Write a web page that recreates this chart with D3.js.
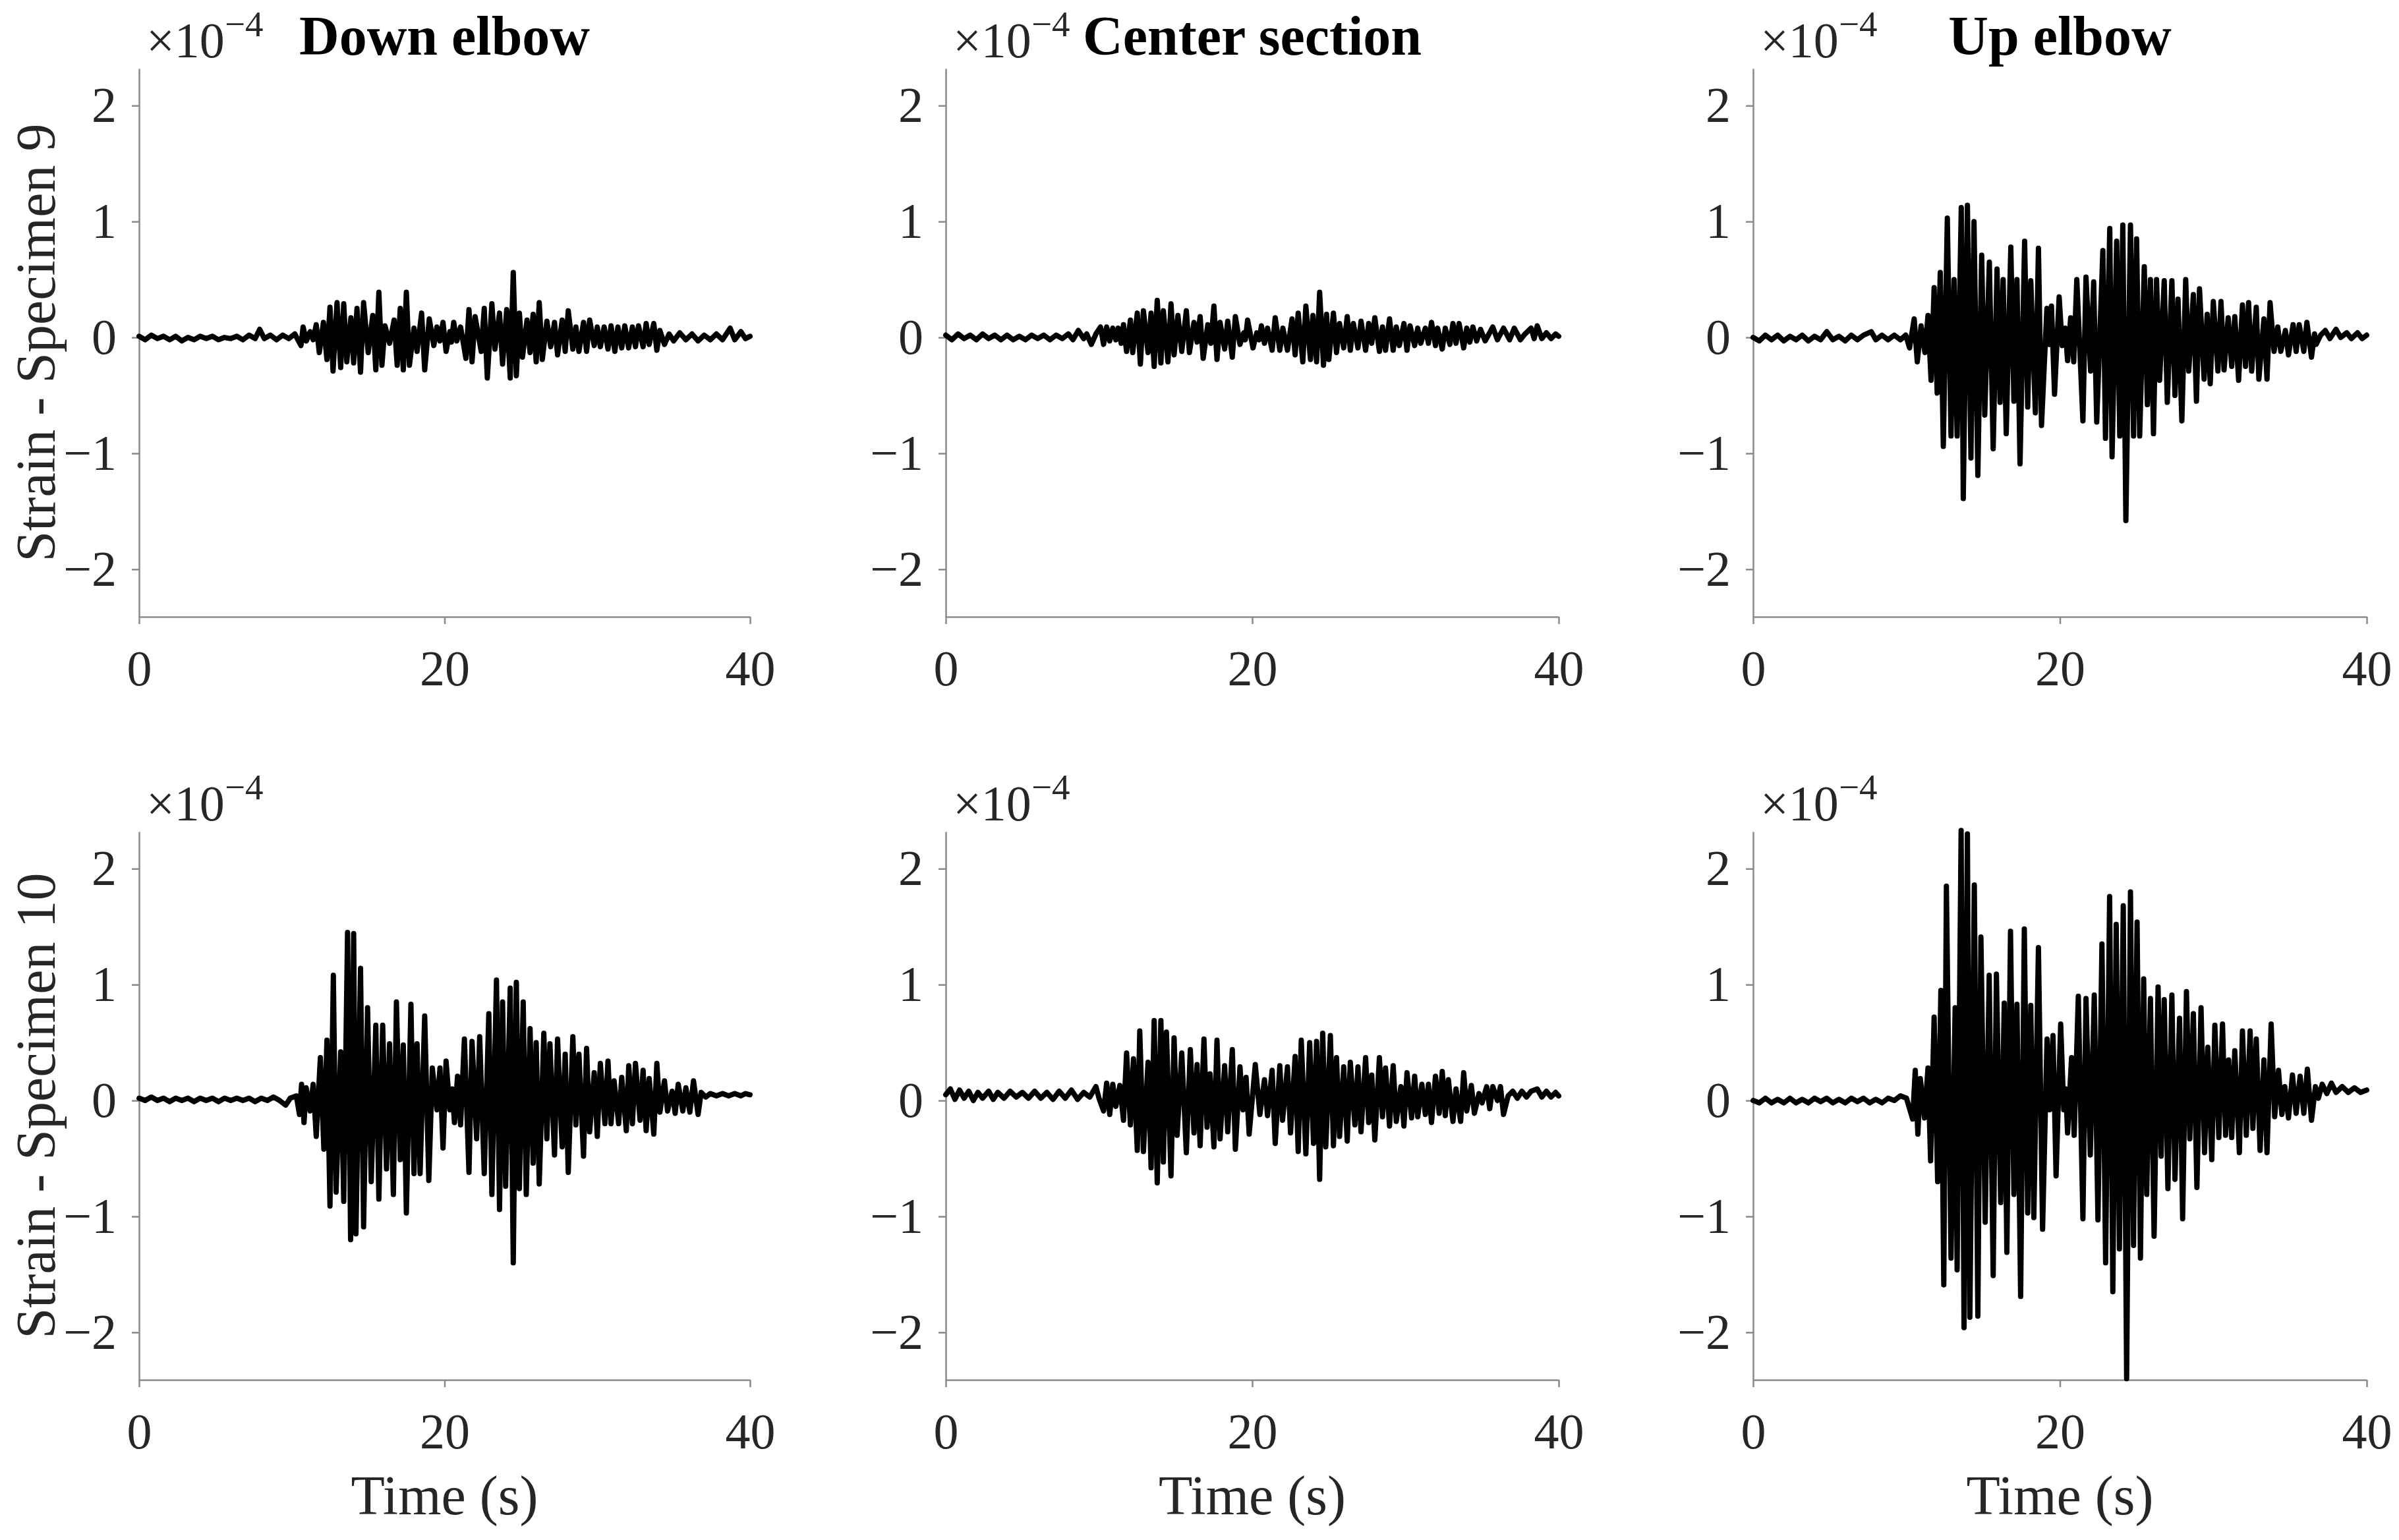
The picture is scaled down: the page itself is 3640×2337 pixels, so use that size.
<!DOCTYPE html>
<html>
<head>
<meta charset="utf-8">
<script src="https://cdn.jsdelivr.net/npm/d3@7"></script>
<style>
  body { margin: 0; background: #fff; }
  svg { display: block; }
</style>
</head>
<body>
<svg id="chart"></svg>
<script>
// strain traces, [time (s), strain x1e-4], read peak by peak off the figure
const down9 = [[0,0.01],[0.4,-0.02],[0.8,0.02],[1.2,-0.01],[1.6,0.01],[2,-0.02],[2.4,0.01],[2.8,-0.03],[3.2,0],[3.6,-0.02],[4,0.01],[4.4,-0.01],[4.8,0.01],[5.2,-0.02],[5.6,0],[6,-0.01],[6.4,0.01],[6.8,-0.02],[7.2,0.02],[7.6,-0.01],[7.9,0.07],[8.2,-0.01],[8.6,0.02],[9,-0.02],[9.4,0.02],[9.8,-0.01],[10.2,0.03],
  [10.6,-0.07],[10.74,0.09],[10.95,-0.03],[11.2,0.05],[11.4,-0.02],[11.6,0.11],[11.8,-0.13],[12.07,0.13],[12.3,-0.19],[12.5,0.26],[12.7,-0.29],[12.96,0.3],[13.2,-0.26],[13.4,0.29],[13.6,-0.21],[13.87,0.17],[14.05,-0.22],[14.27,0.25],[14.5,-0.3],[14.7,0.3],[15,-0.13],[15.3,0.19],[15.5,-0.28],[15.7,0.39],[15.9,-0.24],[16.1,0.1],[16.4,-0.05],[16.7,0.15],[16.9,-0.24],[17.1,0.25],[17.3,-0.28],[17.5,0.39],[17.7,-0.24],[18,0.08],[18.2,-0.12],[18.5,0.21],[18.7,-0.28],[19,0.16],[19.3,-0.07],[19.5,0.09],[19.7,-0.03],[19.9,0.13],[20.1,-0.12],[20.35,0.05],[20.45,-0.04],[20.6,0.13],[20.8,-0.03],[21.05,0.09],[21.4,-0.18],[21.6,0.24],[21.8,-0.21],[22,0.18],[22.4,-0.12],[22.6,0.25],[22.8,-0.35],[23.1,0.29],[23.3,-0.1],[23.6,0.21],[23.8,-0.23],[24.07,0.24],[24.3,-0.35],[24.5,0.56],[24.7,-0.33],[24.9,0.21],[25.1,-0.17],[25.4,0.15],[25.6,-0.13],[25.8,0.2],[26,-0.21],[26.2,0.3],[26.4,-0.19],[26.7,0.14],[26.95,-0.08],[27.2,0.13],[27.4,-0.15],[27.7,0.15],[27.9,-0.12],[28.1,0.23],[28.4,-0.1],[28.6,0.09],[28.8,-0.12],[29.1,0.13],[29.3,-0.12],[29.5,0.15],[29.8,-0.07],[30,0.09],[30.2,-0.08],[30.45,0.09],[30.7,-0.1],[30.9,0.1],[31.15,-0.12],[31.35,0.09],[31.6,-0.09],[31.8,0.1],[32.05,-0.09],[32.3,0.09],[32.5,-0.08],[32.7,0.1],[33,-0.08],[33.2,0.12],[33.4,-0.06],[33.7,0.12],[33.9,-0.11],[34.1,0.06],[34.4,-0.06],
  [34.7,0.03],[35,-0.03],[35.4,0.04],[35.8,-0.02],[36.2,0.03],[36.6,-0.03],[37,0.02],[37.4,-0.02],[37.8,0.03],[38.2,-0.02],[38.7,0.08],[39,-0.02],[39.4,0.05],[39.7,-0.01],[40,0.01]];

const center9 = [[0,0.02],[0.4,-0.02],[0.8,0.03],[1.2,-0.01],[1.6,0.02],[2,-0.02],[2.4,0.03],[2.8,-0.01],[3.2,0.02],[3.6,-0.02],[4,0.02],[4.4,-0.02],[4.8,0.01],[5.2,-0.02],[5.6,0.02],[6,-0.01],[6.4,0.02],[6.8,-0.02],[7.2,0.02],[7.6,-0.01],[8,0.03],[8.3,-0.02],[8.65,0.06],[9,-0.01],[9.2,0.03],[9.5,-0.06],[9.8,0.03],
  [10.1,0.09],[10.3,-0.06],[10.5,0.09],[10.7,-0.03],[10.9,0.08],[11.1,-0.02],[11.25,0.08],[11.45,-0.05],[11.6,0.11],[11.8,-0.12],[12.05,0.15],[12.2,-0.13],[12.5,0.21],[12.7,-0.23],[12.9,0.23],[13.2,-0.13],[13.4,0.21],[13.6,-0.25],[13.8,0.32],[14.04,-0.22],[14.2,0.23],[14.5,-0.21],[14.7,0.29],[14.9,-0.15],[15.15,0.19],[15.4,-0.12],[15.7,0.23],[15.9,-0.13],[16.2,0.13],[16.4,-0.04],[16.6,0.18],[16.8,-0.18],[17.1,0.11],[17.3,-0.05],[17.5,0.27],[17.7,-0.19],[17.9,0.13],[18.2,-0.1],[18.4,0.14],[18.7,-0.17],[18.9,0.18],[19.2,-0.06],[19.45,0.04],[19.55,-0.02],[19.7,0.15],[20.05,-0.09],[20.3,0.04],[20.45,-0.02],[20.6,0.1],[20.8,-0.05],[21,0.08],[21.3,-0.11],[21.5,0.17],[21.8,-0.11],[22,0.08],[22.3,-0.11],[22.6,0.16],[22.8,-0.15],[23,0.21],[23.3,-0.21],[23.5,0.27],[23.8,-0.19],[23.96,0.19],[24.2,-0.21],[24.4,0.39],[24.65,-0.24],[24.85,0.2],[25,-0.19],[25.3,0.21],[25.5,-0.13],[25.7,0.12],[25.97,-0.09],[26.2,0.18],[26.4,-0.11],[26.6,0.12],[26.9,-0.09],[27.1,0.14],[27.4,-0.11],[27.6,0.12],[27.8,-0.05],[28,0.17],[28.3,-0.12],[28.5,0.09],[28.7,-0.11],[28.96,0.16],[29.2,-0.11],[29.4,0.09],[29.6,-0.07],[29.9,0.12],[30.1,-0.11],[30.3,0.1],[30.6,-0.07],[30.8,0.08],[31,-0.05],[31.3,0.08],[31.5,-0.05],[31.7,0.13],[31.96,-0.07],[32.1,0.08],[32.4,-0.1],[32.6,0.08],[32.9,-0.06],[33.1,0.12],[33.3,-0.05],[33.5,0.12],[33.8,-0.09],[34,0.08],[34.2,-0.04],[34.4,0.09],[34.65,-0.03],[34.9,0.07],
  [35.2,-0.03],[35.7,0.09],[36,-0.02],[36.4,0.08],[36.8,-0.02],[37.1,0.08],[37.5,-0.02],[37.8,0.03],[38.2,0.08],[38.4,-0.01],[38.6,0.1],[38.9,-0.01],[39.2,0.04],[39.5,-0.01],[39.8,0.03],[40,0.01]];

const up9 = [[0,0],[0.4,-0.03],[0.8,0.02],[1.2,-0.02],[1.6,0.02],[2,-0.03],[2.4,0.01],[2.8,-0.02],[3.2,0.02],[3.6,-0.03],[4,0.01],[4.4,-0.02],[4.8,0.05],[5.2,-0.02],[5.6,0.01],[6,-0.03],[6.4,0.02],[6.8,-0.02],[7.2,0.02],[7.7,0.05],[8,-0.02],[8.4,0.02],[8.8,-0.02],[9.2,0.02],[9.6,-0.02],[9.95,0.02],
  [10.2,-0.09],[10.5,0.16],[10.7,-0.21],[10.95,0.1],[11.2,-0.13],[11.4,0.19],[11.6,-0.37],[11.8,0.43],[12,-0.48],[12.2,0.56],[12.4,-0.94],[12.66,1.03],[12.9,-0.85],[13.1,0.5],[13.3,-0.85],[13.57,1.12],[13.7,-1.39],[13.97,1.14],[14.2,-1.04],[14.4,1],[14.65,-1.19],[14.9,0.71],[15.1,-0.67],[15.4,0.65],[15.65,-0.96],[15.9,0.59],[16.1,-0.56],[16.3,0.5],[16.5,-0.83],[16.8,0.78],[17,-0.55],[17.2,0.5],[17.4,-1.09],[17.7,0.83],[17.9,-0.6],[18.1,0.49],[18.4,-0.65],[18.6,0.77],[18.8,-0.76],[19.15,0.25],[19.3,-0.06],[19.45,0.27],[19.65,-0.49],[19.95,0.35],[20.15,-0.07],[20.35,0.08],[20.5,-0.2],[20.7,0.17],[20.9,-0.21],[21.1,0.5],[21.5,-0.72],[21.7,0.52],[22,-0.29],[22.2,0.48],[22.4,-0.73],[22.8,0.75],[22.97,-0.87],[23.25,0.94],[23.4,-1.03],[23.7,0.83],[23.9,-0.85],[24.1,0.97],[24.3,-1.58],[24.6,0.97],[24.8,-0.85],[25,0.85],[25.2,-0.85],[25.5,0.61],[25.7,-0.58],[25.9,0.5],[26.1,-0.83],[26.3,0.5],[26.5,-0.37],[26.8,0.49],[27,-0.56],[27.3,0.49],[27.5,-0.5],[27.7,0.33],[27.95,-0.72],[28.2,0.5],[28.4,-0.29],[28.7,0.37],[28.9,-0.55],[29.1,0.42],[29.4,-0.36],[29.6,0.2],[29.8,-0.4],[30,0.31],[30.3,-0.29],[30.5,0.31],[30.7,-0.28],[30.97,0.17],[31.2,-0.25],[31.4,0.18],[31.65,-0.37],[31.9,0.28],[32.1,-0.25],[32.3,0.3],[32.5,-0.29],[32.8,0.26],[32.97,-0.36],[33.3,0.16],[33.5,-0.36],[33.7,0.3],[33.96,-0.12],[34.2,0.09],[34.4,-0.12],[34.7,0.06],[34.9,-0.15],[35.2,0.11],[35.4,-0.12],[35.6,0.11],[35.9,-0.12],[36.1,0.13],[36.4,-0.17],[36.6,0.03],[36.7,-0.06],
  [37,0.02],[37.3,0.06],[37.6,-0.01],[38,0.07],[38.3,0],[38.7,0.04],[39,-0.01],[39.4,0.04],[39.7,-0.01],[40,0.02]];

const down10 = [[0,0.02],[0.4,0],[0.8,0.03],[1.2,0],[1.6,0.02],[2,-0.01],[2.4,0.02],[2.8,0],[3.2,0.02],[3.6,-0.01],[4,0.02],[4.4,0],[4.8,0.02],[5.2,-0.01],[5.6,0.02],[6,0],[6.4,0.02],[6.8,0],[7.2,0.02],[7.6,-0.01],[8,0.02],[8.4,0],[8.8,0.03],[9.2,0],[9.6,-0.04],[9.9,0.02],
  [10.3,0.04],[10.5,-0.12],[10.64,0.14],[10.8,-0.19],[10.94,0.11],[11.2,-0.09],[11.4,0.14],[11.6,-0.31],[11.87,0.37],[12.1,-0.42],[12.3,0.52],[12.5,-0.91],[12.72,1.08],[12.9,-0.79],[13.2,0.42],[13.4,-0.87],[13.65,1.45],[13.85,-1.2],[14.05,1.44],[14.2,-1.15],[14.5,1.14],[14.7,-1.09],[14.96,0.8],[15.2,-0.7],[15.5,0.65],[15.7,-0.85],[15.95,0.65],[16.2,-0.59],[16.4,0.49],[16.65,-0.81],[16.85,0.85],[17.1,-0.51],[17.3,0.48],[17.5,-0.97],[17.8,0.83],[18,-0.63],[18.2,0.49],[18.4,-0.63],[18.7,0.73],[18.97,-0.69],[19.2,0.28],[19.5,-0.08],[19.7,0.28],[19.9,-0.41],[20.1,0.34],[20.35,-0.08],[20.5,0.1],[20.65,-0.19],[20.85,0.21],[21.05,-0.21],[21.3,0.53],[21.6,-0.62],[21.8,0.51],[22.1,-0.33],[22.3,0.55],[22.6,-0.63],[22.9,0.75],[23.1,-0.81],[23.4,1.04],[23.6,-0.94],[23.8,0.85],[24,-0.74],[24.3,0.97],[24.5,-1.4],[24.7,1.02],[24.9,-0.76],[25.15,0.85],[25.35,-0.81],[25.6,0.62],[25.8,-0.54],[26,0.5],[26.2,-0.72],[26.5,0.58],[26.7,-0.33],[26.9,0.49],[27.2,-0.47],[27.4,0.53],[27.7,-0.4],[27.9,0.4],[28.1,-0.62],[28.4,0.55],[28.6,-0.21],[28.8,0.4],[29.1,-0.48],[29.3,0.45],[29.5,-0.27],[29.8,0.24],[30,-0.31],[30.2,0.32],[30.5,-0.2],[30.7,0.34],[30.9,-0.2],[31.1,0.17],[31.4,-0.2],[31.6,0.2],[31.9,-0.26],[32.06,0.3],[32.3,-0.2],[32.5,0.32],[32.8,-0.17],[33,0.26],[33.2,-0.26],[33.4,0.19],[33.7,-0.29],[33.9,0.32],[34.1,-0.1],[34.4,0.17],[34.6,-0.09],[34.9,0.08],[35.1,-0.11],[35.3,0.14],[35.6,-0.09],[35.8,0.11],[36.06,-0.1],[36.3,0.17],[36.6,-0.12],[36.8,0.07],
  [37.1,0.03],[37.4,0.06],[37.8,0.04],[38.2,0.06],[38.6,0.04],[39,0.06],[39.4,0.04],[39.7,0.06],[40,0.05]];

const center10 = [[0,0.05],[0.3,0.1],[0.6,0.01],[0.9,0.09],[1.2,0.02],[1.5,0.08],[1.8,0],[2.1,0.07],[2.4,0.02],[2.8,0.08],[3.1,0.01],[3.4,0.07],[3.8,0.02],[4.2,0.08],[4.6,0.03],[5,0.07],[5.4,0.02],[5.8,0.08],[6.2,0.02],[6.6,0.07],[7,0.01],[7.4,0.08],[7.8,0.02],[8.2,0.09],[8.6,0.01],[9,0.07],[9.4,0.03],[9.8,0.12],[10,0.02],
  [10.3,-0.09],[10.5,0.15],[10.7,-0.12],[10.9,0.14],[11.1,-0.05],[11.36,0.13],[11.6,-0.17],[11.8,0.41],[12.05,-0.21],[12.25,0.36],[12.5,-0.43],[12.66,0.6],[12.9,-0.44],[13.2,0.33],[13.4,-0.58],[13.6,0.69],[13.8,-0.71],[14.04,0.69],[14.2,-0.53],[14.4,0.59],[14.7,-0.65],[14.9,0.54],[15.1,-0.3],[15.4,0.41],[15.7,-0.45],[15.96,0.44],[16.2,-0.28],[16.4,0.31],[16.6,-0.39],[16.85,0.53],[17.05,-0.23],[17.25,0.23],[17.5,-0.4],[17.7,0.52],[17.9,-0.33],[18.2,0.3],[18.4,-0.27],[18.7,0.44],[18.9,-0.42],[19.2,0.29],[19.4,-0.08],[19.6,0.2],[19.8,-0.29],[20.2,0.31],[20.5,-0.12],[20.8,0.18],[21,-0.13],[21.3,0.26],[21.5,-0.37],[21.8,0.3],[21.98,-0.17],[22.3,0.29],[22.5,-0.28],[22.8,0.38],[23,-0.44],[23.2,0.52],[23.5,-0.46],[23.75,0.5],[24,-0.37],[24.2,0.51],[24.4,-0.68],[24.6,0.58],[24.8,-0.4],[25.1,0.56],[25.3,-0.39],[25.5,0.37],[25.7,-0.31],[25.97,0.29],[26.2,-0.35],[26.4,0.33],[26.7,-0.21],[26.9,0.29],[27.1,-0.27],[27.4,0.37],[27.6,-0.19],[27.8,0.22],[28,-0.34],[28.3,0.37],[28.5,-0.14],[28.7,0.28],[28.96,-0.22],[29.2,0.3],[29.4,-0.18],[29.7,0.12],[29.9,-0.22],[30.1,0.24],[30.4,-0.15],[30.6,0.21],[30.8,-0.14],[31.07,0.14],[31.3,-0.12],[31.5,0.14],[31.7,-0.19],[31.96,0.21],[32.2,-0.11],[32.4,0.25],[32.6,-0.13],[32.8,0.18],[33.1,-0.18],[33.3,0.1],[33.6,-0.18],[33.8,0.24],[34,-0.09],[34.3,0.13],[34.5,-0.11],[34.8,0.06],[35,-0.02],[35.3,0.12],[35.5,-0.07],[35.7,0.12],[36,0],[36.2,0.12],[36.4,-0.12],[36.7,0.04],
  [37,0.08],[37.3,0.02],[37.6,0.08],[37.9,0.03],[38.2,0.08],[38.6,0.1],[38.9,0.03],[39.2,0.08],[39.5,0.03],[39.8,0.07],[40,0.04]];

const up10 = [[0,0],[0.4,-0.02],[0.8,0.02],[1.2,-0.02],[1.6,0.01],[2,-0.02],[2.4,0.02],[2.8,-0.02],[3.2,0.01],[3.6,-0.02],[4,0.02],[4.4,-0.01],[4.8,0.02],[5.2,-0.02],[5.6,0.01],[6,-0.02],[6.4,0.02],[6.8,-0.01],[7.2,0.02],[7.6,-0.02],[8,0.01],[8.4,-0.02],[8.8,0.02],[9.2,0],[9.6,0.04],[10,0.02],
  [10.4,-0.16],[10.57,0.26],[10.74,-0.29],[10.9,0.19],[11.17,-0.15],[11.4,0.28],[11.57,-0.52],[11.8,0.72],[12.03,-0.7],[12.24,0.95],[12.43,-1.59],[12.6,1.85],[12.9,-1.36],[13.17,0.8],[13.3,-1.46],[13.56,2.33],[13.75,-1.96],[13.97,2.3],[14.13,-1.87],[14.42,1.86],[14.65,-1.86],[14.85,1.41],[15.13,-1.05],[15.39,1.08],[15.65,-1.51],[15.86,1.09],[16.14,-0.88],[16.37,0.84],[16.54,-1.31],[16.78,1.46],[17,-0.81],[17.2,0.83],[17.44,-1.69],[17.68,1.48],[17.9,-0.97],[18.1,0.82],[18.3,-1.01],[18.6,1.32],[18.87,-1.11],[19.16,0.53],[19.33,-0.08],[19.55,0.56],[19.75,-0.65],[20.05,0.66],[20.25,-0.08],[20.38,0.1],[20.5,-0.28],[20.76,0.37],[20.93,-0.3],[21.2,0.9],[21.5,-1.02],[21.7,0.88],[21.98,-0.47],[22.24,0.91],[22.48,-1.03],[22.74,1.35],[22.98,-1.4],[23.24,1.76],[23.45,-1.65],[23.67,1.52],[23.88,-1.28],[24.13,1.68],[24.35,-2.4],[24.6,1.8],[24.8,-1.25],[25.03,1.54],[25.25,-1.36],[25.46,1.05],[25.66,-0.81],[25.9,0.88],[26.14,-1.17],[26.4,0.98],[26.6,-0.48],[26.8,0.87],[27.04,-0.76],[27.3,0.91],[27.5,-0.68],[27.8,0.71],[28,-1.02],[28.25,0.94],[28.47,-0.33],[28.7,0.75],[28.93,-0.75],[29.2,0.8],[29.43,-0.45],[29.64,0.46],[29.9,-0.51],[30.1,0.65],[30.36,-0.32],[30.6,0.66],[30.8,-0.3],[31,0.35],[31.2,-0.32],[31.4,0.43],[31.7,-0.45],[31.9,0.6],[32.15,-0.3],[32.4,0.6],[32.58,-0.24],[32.8,0.53],[33.05,-0.43],[33.3,0.35],[33.5,-0.45],[33.77,0.66],[34,-0.14],[34.25,0.26],[34.47,-0.12],[34.66,0.12],[34.9,-0.15],[35.16,0.22],[35.4,-0.11],[35.66,0.21],[35.9,-0.11],[36.13,0.27],[36.4,-0.17],[36.66,0.12],
  [36.85,0.02],[37.1,0.14],[37.4,0.06],[37.7,0.15],[38,0.07],[38.4,0.12],[38.8,0.07],[39.2,0.11],[39.6,0.07],[40,0.09]];

const titles = ['Down elbow', 'Center section', 'Up elbow'];
const yLabels = ['Strain - Specimen 9', 'Strain - Specimen 10'];
const xLabel = 'Time (s)';
const xTicks = [0, 20, 40];
const yTicks = [-2, -1, 0, 1, 2];
const panels = [[down9, center9, up9], [down10, center10, up10]];

const W = 3640, H = 2337;
const font = '"Liberation Serif", "Times New Roman", serif';
const colX = [[211, 1138], [1435, 2365], [2660, 3591]];
const rowY = [[936, 104], [2094, 1262]];

const svg = d3.select('#chart').attr('width', W).attr('height', H)
    .style('font-family', font);
svg.append('rect').attr('width', W).attr('height', H).attr('fill', '#fff');

const fmt = d => d < 0 ? '\u2212' + Math.abs(d) : String(d);

panels.forEach((row, r) => {
    row.forEach((series, c) => {
        const x = d3.scaleLinear().domain([0, 40]).range(colX[c]);
        const y = d3.scaleLinear().domain([-2.41, 2.32]).range(rowY[r]);
        const g = svg.append('g');

        const xAxis = g.append('g')
            .attr('transform', `translate(0,${rowY[r][0]})`)
            .call(d3.axisBottom(x).tickValues(xTicks).tickSize(11).tickSizeOuter(0).tickPadding(39).tickFormat(fmt));
        const yAxis = g.append('g')
            .attr('transform', `translate(${colX[c][0]},0)`)
            .call(d3.axisLeft(y).tickValues(yTicks).tickSize(11).tickSizeOuter(0).tickPadding(23).tickFormat(fmt));

        [xAxis, yAxis].forEach(a => {
            a.select('.domain').attr('stroke', '#8a8a8a').attr('stroke-width', 2.5);
            a.selectAll('.tick line').attr('stroke', '#8a8a8a').attr('stroke-width', 2.5);
            a.selectAll('.tick text').attr('fill', '#262626')
                .style('font-size', '76px').style('font-family', font);
        });

        // trace
        const line = d3.line().x(d => x(d[0])).y(d => y(d[1]));
        g.append('path')
            .datum(series)
            .attr('d', line)
            .attr('fill', 'none')
            .attr('stroke', '#000')
            .attr('stroke-width', 8)
            .attr('stroke-linejoin', 'round')
            .attr('stroke-linecap', 'round');

        // exponent marker
        const ex = g.append('text')
            .attr('x', colX[c][0] + 11)
            .attr('y', rowY[r][1] - 17)
            .attr('fill', '#262626')
            .style('font-size', '76px');
        ex.append('tspan').text('\u00d710');
        ex.append('tspan').attr('dy', -32).style('font-size', '55px').text('\u22124');

        if (r === 0) {
            g.append('text')
                .attr('x', (colX[c][0] + colX[c][1]) / 2)
                .attr('y', 83)
                .attr('text-anchor', 'middle')
                .style('font-size', '84px')
                .style('font-weight', 'bold')
                .text(titles[c]);
        }
        if (r === 1) {
            g.append('text')
                .attr('x', (colX[c][0] + colX[c][1]) / 2)
                .attr('y', 2298)
                .attr('text-anchor', 'middle')
                .attr('fill', '#262626')
                .style('font-size', '84px')
                .text(xLabel);
        }
        if (c === 0) {
            const cy = (rowY[r][0] + rowY[r][1]) / 2;
            g.append('text')
                .attr('transform', `translate(83,${cy}) rotate(-90)`)
                .attr('text-anchor', 'middle')
                .attr('fill', '#262626')
                .style('font-size', '84px')
                .text(yLabels[r]);
        }
    });
});
</script>
</body>
</html>
